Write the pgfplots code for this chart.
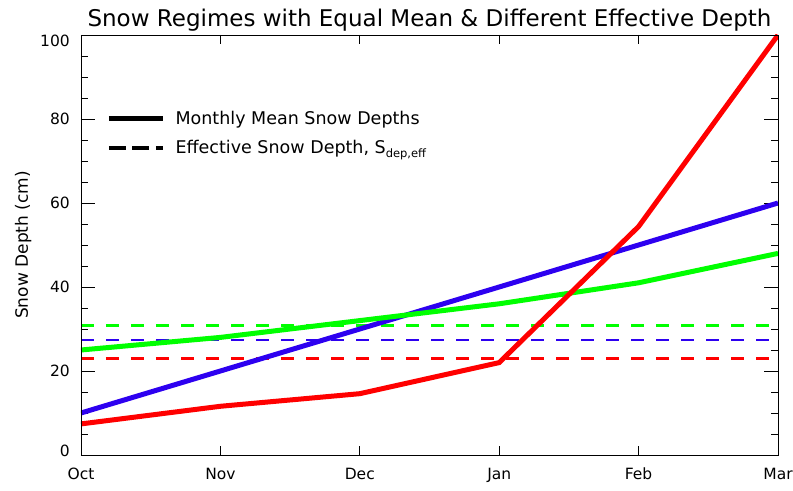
\documentclass[border=0pt]{standalone}
\usepackage{fontspec}
\setmainfont{DejaVu Sans}
\usepackage{pgfplots}
\pgfplotsset{compat=1.18}
\definecolor{cred}{RGB}{255,0,0}
\definecolor{cgreen}{RGB}{0,255,0}
\definecolor{cblue}{RGB}{45,0,240}
\begin{document}
\begin{tikzpicture}
\useasboundingbox (-81bp,-36bp) rectangle (712bp,455bp);
\begin{axis}[
  scale only axis, width=697bp, height=420bp,
  xmin=0, xmax=5, ymin=0, ymax=100,
  xtick=\empty,
  ytick={0,20,...,100}, minor y tick num=3,
  tick align=inside,
  major tick length=14bp, minor tick length=7bp,
  axis line style={line width=0.8bp},
  every tick/.style={black, line width=0.8bp},
  ticklabel style={font=\fontsize{15.5bp}{18bp}\selectfont, inner sep=0pt},
  yticklabel style={/utils/exec={\ifnum\ticknum=5 \pgfkeysalso{/tikz/yshift=-6bp}\fi\ifnum\ticknum=0 \pgfkeysalso{/tikz/yshift=4bp}\fi}},
  /pgf/number format/assume math mode=true,
  yticklabel shift=11bp,
  title={Snow Regimes with Equal Mean \& Different Effective Depth},
  every axis title/.style={at={([yshift=8bp]rel axis cs:0.5,1)}, anchor=base, inner sep=0pt, font=\fontsize{23bp}{26bp}\selectfont},
  ylabel={Snow Depth (cm)},
  every axis y label/.style={at={([xshift=-53bp]rel axis cs:0,0.5)}, rotate=90, anchor=base, inner sep=0pt, font=\fontsize{17bp}{20bp}\selectfont},
  legend style={at={(rel axis cs:0.036,0.766)}, anchor=west, draw=none, fill=none, inner sep=0pt, outer sep=0pt,
    font=\fontsize{17.5bp}{20bp}\selectfont, row sep=14.5bp,
    nodes={inner sep=0pt, text height=13bp, text depth=2bp},
    /tikz/every odd column/.append style={column sep=10bp}},
  legend cell align=left,
  legend image code/.code={\draw[#1] (0bp,0bp) -- (54bp,0bp);},
]
\addlegendimage{black, line width=5.5bp}
\addlegendentry{Monthly Mean Snow Depths}
\addlegendimage{black, line width=4bp, dash pattern=on 17bp off 6.5bp}
\addlegendentry{Effective Snow Depth, S\raisebox{-4bp}{\fontsize{11.5bp}{11bp}\selectfont dep,eff}}

% effective depths (dashed)
\addplot[forget plot, cgreen, line width=2.6bp, dash pattern=on 13bp off 12bp] coordinates {(0,30.8) (5,30.8)};
\addplot[forget plot, cblue, line width=2.6bp, dash pattern=on 13bp off 12bp] coordinates {(0,27.4) (5,27.4)};
\addplot[forget plot, cred, line width=2.6bp, dash pattern=on 13bp off 12bp] coordinates {(0,23.0) (5,23.0)};
% monthly means
\addplot[forget plot, cblue, line width=5bp] coordinates {(0,10) (1,20) (2,30) (3,40) (4,50) (5,60)};
\addplot[forget plot, cgreen, line width=5bp] coordinates {(0,25) (1,28) (2,32) (3,36) (4,41) (5,48)};
\addplot[forget plot, cred, line width=5bp] coordinates {(0,7.4) (1,11.6) (2,14.6) (3,22) (4,54.4) (5,100)};
\end{axis}
\begin{axis}[
  scale only axis, width=697bp, height=420bp,
  xmin=0, xmax=5, ymin=0, ymax=100,
  xtick={0,...,5}, xticklabels={Oct,Nov,Dec,Jan,Feb,Mar}, ytick=\empty,
  tick align=inside, major tick length=9bp,
  axis line style={line width=0.8bp},
  every tick/.style={black, line width=0.8bp},
  ticklabel style={font=\fontsize{15.5bp}{18bp}\selectfont, inner sep=0pt},
  xticklabel shift=13bp,
]
\end{axis}
\end{tikzpicture}
\end{document}
